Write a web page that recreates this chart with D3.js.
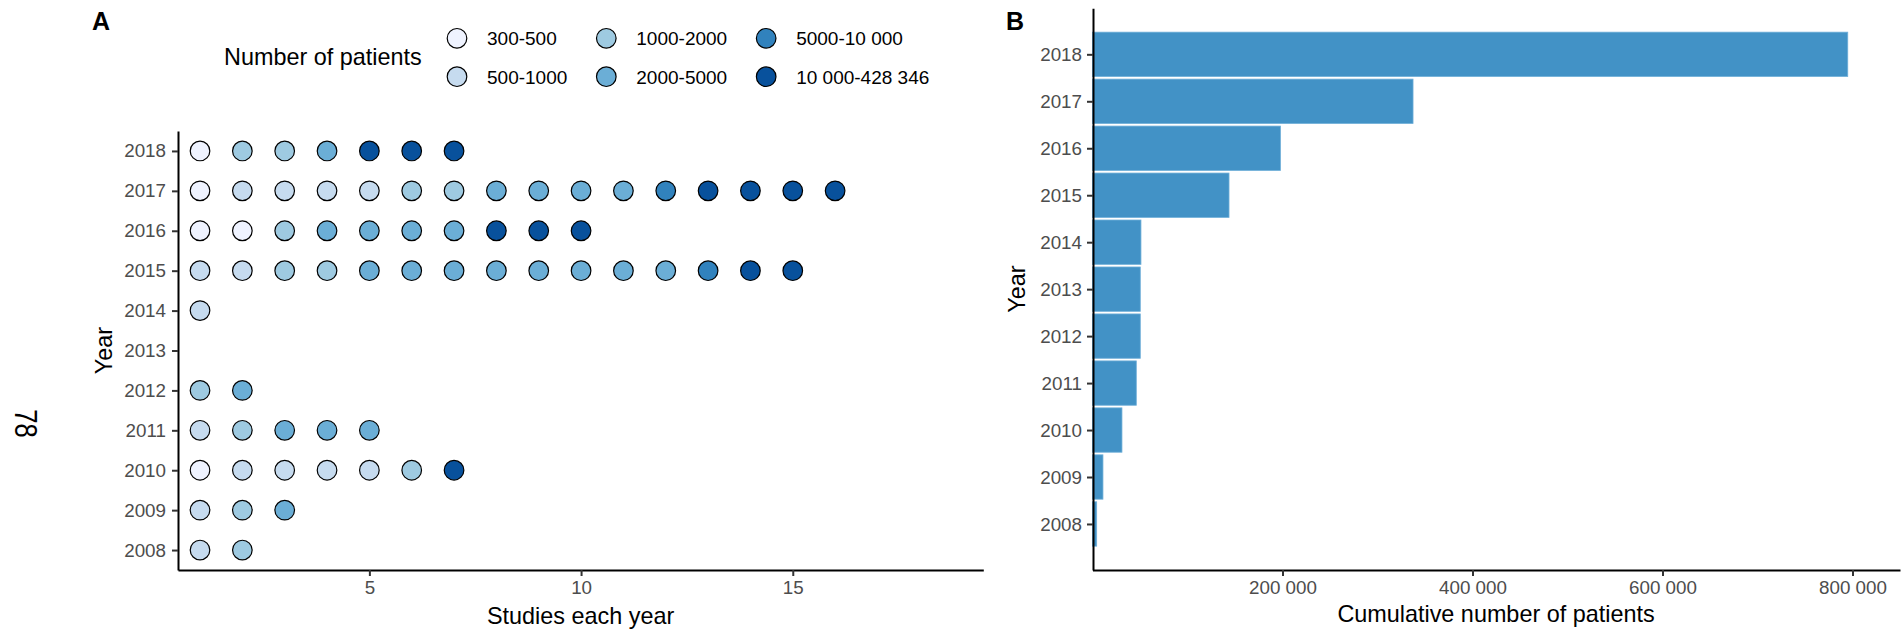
<!DOCTYPE html>
<html>
<head>
<meta charset="utf-8">
<script src="https://cdn.jsdelivr.net/npm/d3@7"></script>
<style>
  body { margin: 0; background: #fff; }
  text { font-family: "Liberation Sans", Arial, Helvetica, sans-serif; }
</style>
</head>
<body>
<svg id="chart" width="1901" height="634"></svg>
<script>
// ---- data ----
const years = [2008, 2009, 2010, 2011, 2012, 2013, 2014, 2015, 2016, 2017, 2018];
const patientBins = ["300-500", "500-1000", "1000-2000", "2000-5000", "5000-10 000", "10 000-428 346"];
const binColors = ["#eff3ff", "#c6dbef", "#9ecae1", "#6baed6", "#3182bd", "#08519c"];

// size class (index into patientBins) of every study published in a year
const studies2008 = [1, 2];
const studies2009 = [1, 2, 3];
const studies2010 = [0, 1, 1, 1, 1, 2, 5];
const studies2011 = [1, 2, 3, 3, 3];
const studies2012 = [2, 3];
const studies2013 = [];
const studies2014 = [1];
const studies2015 = [1, 1, 2, 2, 3, 3, 3, 3, 3, 3, 3, 3, 4, 5, 5];
const studies2016 = [0, 0, 2, 3, 3, 3, 3, 5, 5, 5];
const studies2017 = [0, 1, 1, 1, 1, 2, 2, 3, 3, 3, 3, 4, 5, 5, 5, 5];
const studies2018 = [0, 2, 2, 3, 5, 5, 5];

// cumulative number of patients up to each year
const cumulativePatients = [4400, 11000, 31000, 46100, 50300, 50300, 51000, 143700, 197800, 337400, 795000];

const studyTicks = [5, 10, 15];
const patientTicks = [200000, 400000, 600000, 800000];

// ---- setup ----
const studiesByYear = [studies2008, studies2009, studies2010, studies2011, studies2012, studies2013,
                       studies2014, studies2015, studies2016, studies2017, studies2018];
const dots = [];
years.forEach((y, i) => studiesByYear[i].forEach((bin, j) => dots.push({ year: y, n: j + 1, bin })));

const svg = d3.select("#chart");
const tickFont = 18.8, titleFont = 23.4, tickColor = "#4d4d4d";
const color = d3.scaleOrdinal().domain(d3.range(patientBins.length)).range(binColors);
const spaced = d3.formatLocale({ decimal: ".", thousands: " ", grouping: [3], currency: ["", ""] }).format(",");

function styleAxis(g) {
  g.select(".domain").attr("stroke", "#000").attr("stroke-width", 2);
  g.selectAll(".tick line").attr("stroke", "#333").attr("stroke-width", 2);
  g.selectAll(".tick text").attr("fill", tickColor).style("font-size", tickFont + "px")
    .style("font-family", '"Liberation Sans", Arial, sans-serif');
}

// ---- panel A: dot chart ----
const xA = d3.scaleLinear().domain([0.48, 19.5]).range([178, 983.3]);
const yA = d3.scaleLinear().domain([2007.5, 2018.5]).range([570, 131]);

svg.append("g").attr("transform", "translate(0,570)")
  .call(d3.axisBottom(xA).tickValues(studyTicks).tickSize(6).tickPadding(5).tickSizeOuter(0))
  .call(styleAxis);
svg.append("g").attr("transform", "translate(178,0)")
  .call(d3.axisLeft(yA).tickValues(years).tickFormat(d3.format("d")).tickSize(6).tickPadding(6).tickSizeOuter(0))
  .call(styleAxis);

svg.append("g").selectAll("circle").data(dots).join("circle")
  .attr("cx", d => xA(d.n))
  .attr("cy", d => yA(d.year))
  .attr("r", 9.8)
  .attr("fill", d => color(d.bin))
  .attr("stroke", "#000")
  .attr("stroke-width", 1.2);

svg.append("text").attr("x", 580.6).attr("y", 624).attr("text-anchor", "middle")
  .style("font-size", titleFont + "px").text("Studies each year");
svg.append("text").attr("transform", "translate(112,350.5) rotate(-90)").attr("text-anchor", "middle")
  .style("font-size", titleFont + "px").text("Year");

// legend
const legend = svg.append("g");
legend.append("text").attr("x", 224).attr("y", 65).style("font-size", titleFont + "px").text("Number of patients");
const rowY = [38.3, 76.7];
let colX = 457;
for (let c = 0; c < 3; c++) {
  let maxW = 0;
  for (let r = 0; r < 2; r++) {
    const k = c * 2 + r;
    legend.append("circle").attr("cx", colX).attr("cy", rowY[r]).attr("r", 9.8)
      .attr("fill", color(k)).attr("stroke", "#000").attr("stroke-width", 1.2);
    const t = legend.append("text").attr("x", colX + 30).attr("y", rowY[r]).attr("dy", "0.36em")
      .style("font-size", "19px").text(patientBins[k]);
    maxW = Math.max(maxW, t.node().getComputedTextLength());
  }
  colX = colX + 30 + maxW + 39;
}

svg.append("text").attr("x", 92).attr("y", 30).style("font-size", "25px").style("font-weight", "bold").text("A");

// page number in the margin
svg.append("text").attr("transform", "translate(15,423.5) rotate(90) scale(0.8,1)").attr("text-anchor", "middle")
  .style("font-size", "32px").text("78");

// ---- panel B: cumulative bars ----
const xB = d3.scaleLinear().domain([0, 850000]).range([1092.5, 1900]);
const yB = d3.scaleLinear().domain([2007.02, 2018.98]).range([570, 8.3]);
const half = 0.472;

svg.append("g").selectAll("rect").data(years).join("rect")
  .attr("x", xB(0))
  .attr("y", (d) => yB(d + half))
  .attr("width", (d, i) => xB(cumulativePatients[i]) - xB(0))
  .attr("height", d => yB(d - half) - yB(d + half))
  .attr("fill", "#4292c6")
  .attr("stroke", "#6eaed8")
  .attr("stroke-width", 0.8);

svg.append("g").attr("transform", "translate(0,570)")
  .call(d3.axisBottom(xB).tickValues(patientTicks).tickFormat(spaced).tickSize(6).tickPadding(5).tickSizeOuter(0))
  .call(styleAxis);
svg.append("g").attr("transform", "translate(1093,0)")
  .call(d3.axisLeft(yB).tickValues(years).tickFormat(d3.format("d")).tickSize(6).tickPadding(5).tickSizeOuter(0))
  .call(styleAxis);

svg.append("text").attr("x", 1496).attr("y", 622).attr("text-anchor", "middle")
  .style("font-size", titleFont + "px").text("Cumulative number of patients");
svg.append("text").attr("transform", "translate(1025,289) rotate(-90)").attr("text-anchor", "middle")
  .style("font-size", titleFont + "px").text("Year");

svg.append("text").attr("x", 1006).attr("y", 30).style("font-size", "25px").style("font-weight", "bold").text("B");
</script>
</body>
</html>
